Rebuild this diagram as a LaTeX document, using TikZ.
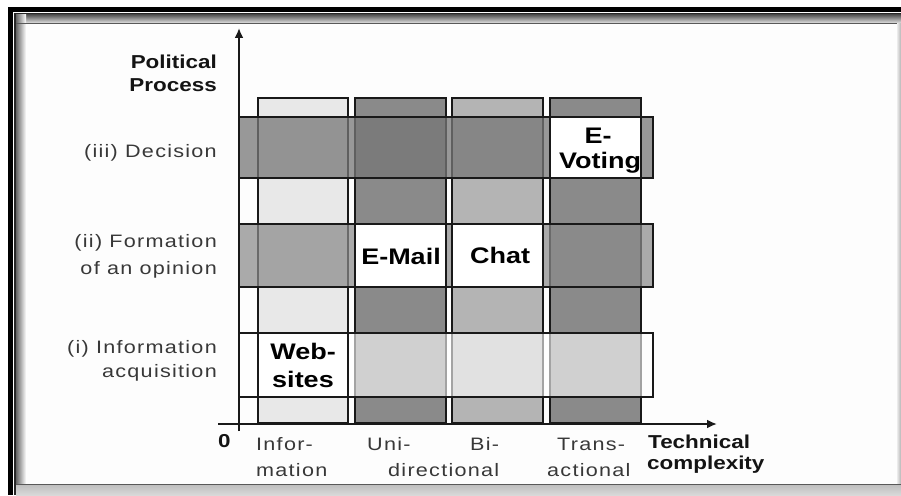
\documentclass[tikz,border=0pt]{standalone}
\usepackage{fontspec}
\setmainfont{Liberation Sans}
\newfontfamily\lblfont[FakeStretch=1.2]{Liberation Sans}
\newfontfamily\regfont[FakeStretch=1.2,LetterSpace=7]{Liberation Sans}
\usetikzlibrary{arrows.meta}
\definecolor{colA}{HTML}{E8E8E8}
\definecolor{colB}{HTML}{8A8A8A}
\definecolor{colC}{HTML}{B4B4B4}
\definecolor{rowC}{HTML}{777777}
\definecolor{rowB}{HTML}{8A8A8A}
\definecolor{panel}{HTML}{FDFDFD}
\begin{document}
\begin{tikzpicture}[x=1pt,y=-1pt,
  reg/.style={font=\regfont\fontsize{18}{20}\selectfont, text=black!78, inner sep=0pt},
  bld/.style={font=\lblfont\bfseries\fontsize{18.7}{20}\selectfont, text=black!92, inner sep=0pt},
  cell/.style={font=\lblfont\bfseries\fontsize{22.5}{24}\selectfont, text=black, inner sep=0pt},
  bar/.style={draw=black!90, line width=2.6pt},
  whitecell/.style={bar, fill=white},
  axis/.style={draw=black!90, line width=2.2pt, -{Latex[length=10pt,width=9pt]}}]
\useasboundingbox (0,0) rectangle (901,495);
% ---- frame ----
\fill[white] (0,0) rectangle (901,495);
\fill[black] (8,7) rectangle (901,495);
\fill[white] (13,12.3) rectangle (901,495);
\fill[black!85] (14,13.3) rectangle (901,495);
\shade[top color=black!65, bottom color=black!12] (16,15) rectangle (901,23);
\fill[panel] (16,24) rectangle (897,484);
\shade[left color=black!60, right color=panel] (16,15) rectangle (26,484);
\draw[black!65, line width=1.3pt] (16,23.3) -- (901,23.3);
\shade[left color=black!8, right color=black!30] (897,24) rectangle (901,484);
\shade[top color=black!25, bottom color=black!15] (16,485) rectangle (901,495);
\draw[black!65, line width=1.6pt] (16,484.5) -- (901,484.5);
% ---- columns ----
\draw[bar, fill=colA] (258,98) rectangle (348,423);
\draw[bar, fill=colB] (355,98) rectangle (446,423);
\draw[bar, fill=colC] (452,98) rectangle (543,423);
\draw[bar, fill=colB] (550,98) rectangle (641,423);
% ---- rows ----
\draw[bar, fill=rowC, fill opacity=0.75] (239,117) rectangle (653,178);
\draw[bar, fill=rowB, fill opacity=0.72] (239,224) rectangle (653,287);
\draw[bar, fill=white, fill opacity=0.6] (239,333) rectangle (653,397);
% ---- white cells ----
\draw[whitecell] (258,333) rectangle (348,397);
\draw[whitecell] (355,224) rectangle (446,287);
\draw[whitecell] (452,224) rectangle (543,287);
\draw[whitecell] (550,117) rectangle (641,178);
% ---- axes ----
\coordinate (xs) at (218,424);
\coordinate (xe) at (717,424);
\coordinate (ys) at (239,431);
\coordinate (ye) at (239,28);
\draw[axis] (xs) -- (xe);
\draw[axis] (ys) -- (ye);
% ---- labels ----
\node[bld, anchor=base east] (pol1) at (217,68) {Political};
\node[bld, anchor=base east] (pol2) at (217,91) {Process};
\node[reg, anchor=base east] (dec) at (217,157) {(iii) Decision};
\node[reg, anchor=base east] (form1) at (217,247) {(ii) Formation};
\node[reg, anchor=base east] (form2) at (217,274) {of an opinion};
\node[reg, anchor=base east] (inf1) at (217,353) {(i) Information};
\node[reg, anchor=base east] (inf2) at (217,377) {acquisition};
\node[bld, anchor=base west] (zero) at (218,447) {0};
\node[reg, anchor=base west] (x1a) at (256,450) {Infor-};
\node[reg, anchor=base west] (x1b) at (256,476) {mation};
\node[reg, anchor=base west] (x2a) at (367,450) {Uni-};
\node[reg, anchor=base west] (x2b) at (388,476) {directional};
\node[reg, anchor=base west] (x3a) at (470,450) {Bi-};
\node[reg, anchor=base west] (x4a) at (557,450) {Trans-};
\node[reg, anchor=base west] (x4b) at (547,476) {actional};
\node[bld, anchor=base west] (tc1) at (648,448) {Technical};
\node[bld, anchor=base west] (tc2) at (647,469) {complexity};
% ---- cell texts ----
\node[cell, anchor=base] (web1) at (303,359) {Web-};
\node[cell, anchor=base] (web2) at (303,387) {sites};
\node[cell, anchor=base] (mail) at (401,264) {E-Mail};
\node[cell, anchor=base] (chat) at (500,263) {Chat};
\node[cell, anchor=base] (ev1) at (598,143) {E-};
\node[cell, anchor=base] (ev2) at (600,168) {Voting};
\end{tikzpicture}
\end{document}
